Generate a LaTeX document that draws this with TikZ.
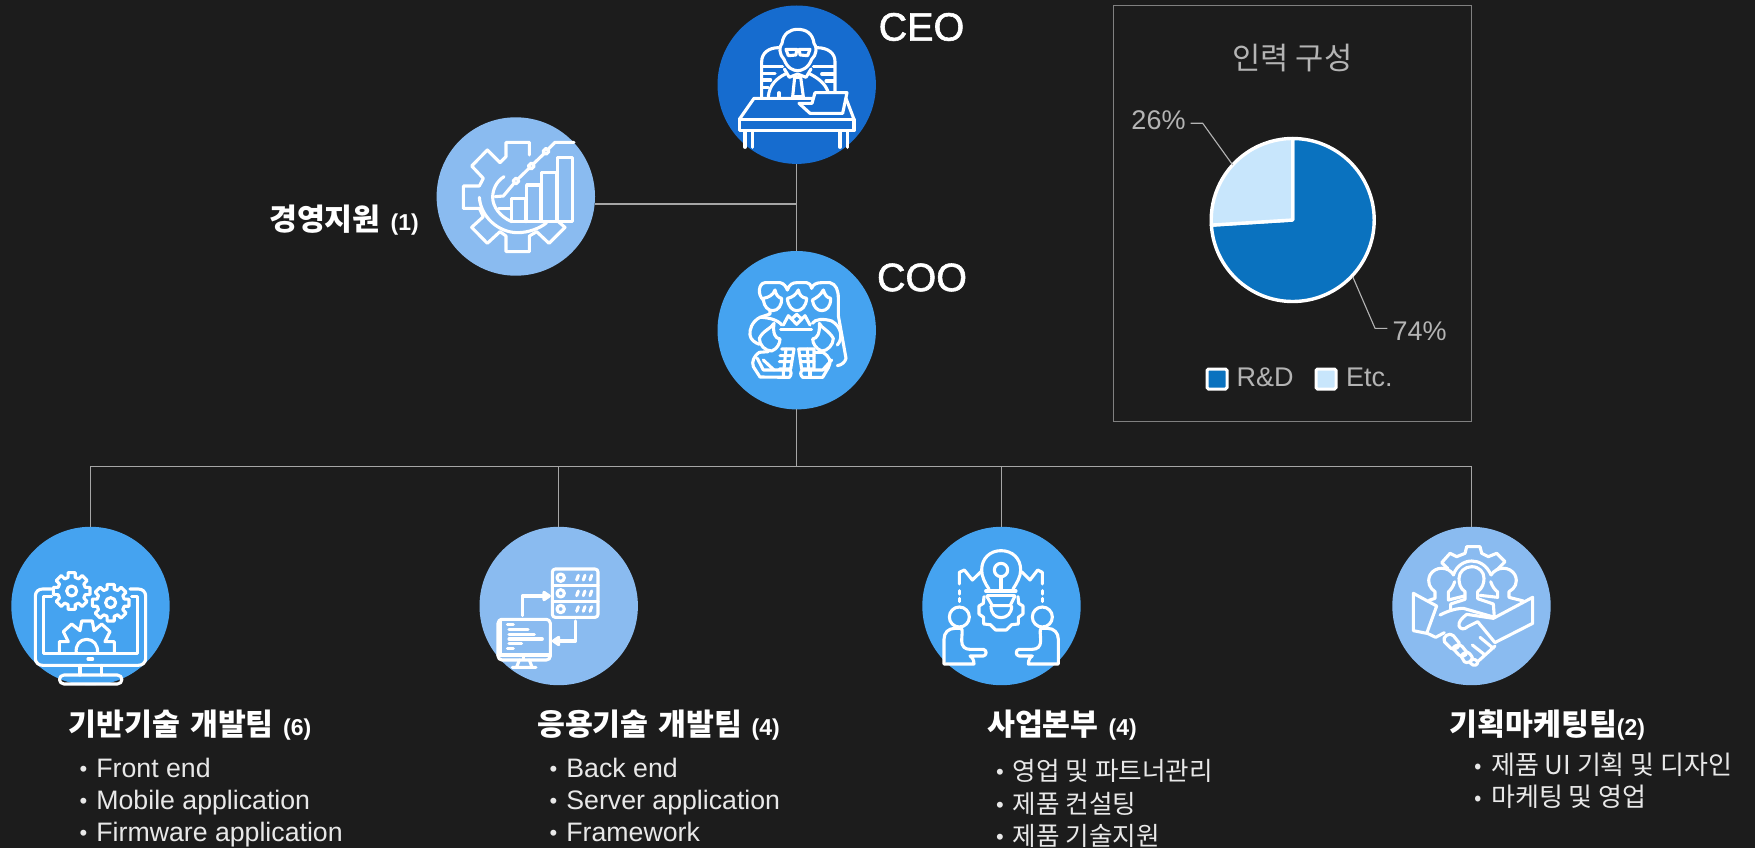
\documentclass[tikz,border=0pt]{standalone}
\usepackage{fontspec}
\setmainfont{Liberation Sans}
\newfontfamily\kr{Noto Sans CJK KR}
\newfontfamily\semi[FakeBold=1.5]{Liberation Sans}
\usetikzlibrary{arrows.meta}
\definecolor{bgc}{HTML}{1C1C1C}
\definecolor{cdark}{HTML}{166CCF}
\definecolor{cmid}{HTML}{45A3F0}
\definecolor{clight}{HTML}{8ABBF0}
\definecolor{linec}{HTML}{A6A6A6}
\definecolor{panelc}{HTML}{808080}
\definecolor{greytxt}{HTML}{B4B4B4}
\definecolor{pieA}{HTML}{0A72BF}
\definecolor{pieB}{HTML}{C8E6FC}
\definecolor{itemc}{HTML}{E8E8E8}
\tikzset{
  disc/.style={circle,minimum size=158.4pt,inner sep=0pt,outer sep=0pt,fill=#1},
  conn/.style={draw=linec,line width=1.1pt},
  ico/.style={draw=white,line width=3.1pt,line join=round,line cap=round},
  ttl/.style={text=white,anchor=base west,inner sep=0pt,font=\fontsize{30.3}{32}\selectfont\kr\bfseries},
  item/.style={text=itemc,anchor=base west,inner sep=0pt,font=\fontsize{26.7}{28}\selectfont},
  itemk/.style={text=itemc,anchor=base west,inner sep=0pt,font=\fontsize{26}{28}\selectfont\kr},
  itemj/.style={text=itemc,anchor=base west,inner sep=0pt,font=\fontsize{25.6}{28}\selectfont\kr},
  big/.style={text=white,inner sep=0pt,font=\fontsize{39.5}{44}\selectfont\semi},
  gtx/.style={text=greytxt,inner sep=0pt,font=\fontsize{27}{30}\selectfont},
  crop/.style={x=0.33333pt,y=-0.33333pt}
}
\newcommand{\bul}{{\fontsize{22}{22}\selectfont\raisebox{1pt}{•}}\hspace{9pt}}
\newcommand{\bulk}{{\fontsize{22}{22}\selectfont\raisebox{1pt}{\normalfont•}}\hspace{9pt}}
\newcommand{\num}[1]{{\fontsize{23}{26}\selectfont\normalfont\bfseries #1}}
\newcommand{\gearat}[6]{% cx cy R r hole teeth
  \draw[ico] ({#1+#3*cos(-11)},{#2+#3*sin(-11)})
    \foreach \k in {1,...,#6}{
      -- ({#1+#3*cos(\k*360/#6-360/#6+11)},{#2+#3*sin(\k*360/#6-360/#6+11)})
      -- ({#1+#4*cos(\k*360/#6-360/#6+15)},{#2+#4*sin(\k*360/#6-360/#6+15)})
      -- ({#1+#4*cos(\k*360/#6-15)},{#2+#4*sin(\k*360/#6-15)})
      -- ({#1+#3*cos(\k*360/#6-11)},{#2+#3*sin(\k*360/#6-11)})
    } -- cycle;
  \draw[ico] (#1,#2) circle (#5);
}
\begin{document}
\begin{tikzpicture}[x=1pt,y=-1pt]
\useasboundingbox (0,0) rectangle (1755,848);
\fill[bgc] (0,0) rectangle (1755,848);

% discs
\node[disc=cdark] (ceo) at (796.7,84.7) {};
\node[disc=clight] (mgmt) at (515.8,196.5) {};
\node[disc=cmid] (coo) at (796.7,330.2) {};
\node[disc=cmid] (t1) at (90.5,606) {};
\node[disc=clight] (t2) at (558.7,606) {};
\node[disc=cmid] (t3) at (1001.5,606) {};
\node[disc=clight] (t4) at (1471.5,606) {};

% connectors
\coordinate (mj) at (796.7,204);
\coordinate (bus) at (796.7,466.7);
\draw[conn] (ceo) -- (coo);
\draw[conn] ([yshift=-7.5pt]mgmt.east) -- (mj);
\draw[conn] (coo) -- (bus);
\draw[conn] (t1.north) |- (bus);
\draw[conn] (t2.north) |- (bus);
\draw[conn] (t3.north) |- (bus);
\draw[conn] (t4.north) |- (bus);

% CEO icon
\begin{scope}[shift={(700,0)},crop]
\draw[ico] (252,178) .. controls (238,165) and (236,140) .. (246,130) .. controls (250,100) and (270,88) .. (293,88) .. controls (318,88) and (338,100) .. (342,130) .. controls (352,140) and (350,165) .. (335,178) .. controls (325,205) and (305,212) .. (293,212) .. controls (280,212) and (262,205) .. (252,178);
\draw[ico] (258,148) -- (290,148) -- (288,165) -- (265,167) -- cycle (298,148) -- (330,148) -- (323,167) -- (300,165) -- cycle (290,150) -- (298,150);
\draw[ico] (253,207) -- (268,232) -- (293,222) -- (318,232) -- (333,207);
\draw[ico] (284,232) -- (302,232) -- (310,290) -- (278,290) -- cycle;
\draw[ico] (205,290) .. controls (208,255) and (230,235) .. (256,222);
\draw[ico] (330,222) .. controls (355,235) and (375,250) .. (384,275);
\draw[ico] (237,278) -- (237,290);
\draw[ico] (185,290) -- (185,185) .. controls (185,160) and (205,143) .. (236,143);
\draw[ico] (405,275) -- (405,185) .. controls (405,160) and (385,143) .. (350,143);
\draw[ico] (187,200) -- (248,200) (187,220) -- (225,220) (187,240) -- (212,240) (187,262) -- (205,262);
\draw[ico] (340,200) -- (403,200) (365,222) -- (403,222) (378,243) -- (403,243);
\draw[ico] (118,358) -- (162,295) -- (335,295) (438,295) -- (462,358);
\draw[ico] (118,358) rectangle (462,392);
\draw[ico] (135,392) -- (135,442) (158,392) -- (158,442) (420,392) -- (420,442) (443,392) -- (443,442);
\draw[ico] (345,278) -- (441,278) -- (428,340) -- (330,340) -- (297,310) -- (336,310) -- cycle;
\end{scope}

% management icon
\begin{scope}[shift={(420,110)},crop]
\draw[ico] (328,135) -- (328,97) -- (258,97) -- (258,140) -- (240,158) -- (202,120) -- (155,168) -- (190,205) -- (178,228) -- (130,228) -- (130,295) -- (178,295) -- (190,320) -- (155,352) -- (202,400) -- (240,365) -- (258,378) -- (258,425) -- (328,425) -- (328,378) -- (350,365) -- (387,400) -- (435,352) -- (415,335);
\draw[ico] (178,262) .. controls (182,320) and (235,368) .. (293,368) .. controls (325,368) and (360,355) .. (380,338);
\draw[ico] (252,200) .. controls (228,215) and (218,240) .. (218,262) .. controls (218,290) and (240,320) .. (275,335);
\draw[ico] (275,335) -- (275,265) -- (318,265) -- (318,335) (320,335) -- (320,225) -- (362,225) -- (362,335) (365,335) -- (365,187) -- (410,187) -- (410,335) (413,335) -- (413,143) -- (458,143) -- (458,335) -- (275,335);
\draw[ico] (225,260) -- (250,258) -- (282,220) (294,207) -- (327,175) (342,160) -- (372,131) (386,116) -- (405,97) -- (462,97);
\draw[ico] (288,204) -- (297,213) -- (288,222) -- (279,213) -- cycle;
\draw[ico] (334,159) -- (343,168) -- (334,177) -- (325,168) -- cycle;
\draw[ico] (378,115) -- (387,124) -- (378,133) -- (369,124) -- cycle;
\draw[ico] (236,295) -- (272,295);
\end{scope}

% COO icon
\begin{scope}[shift={(700,245)},crop]
\draw[ico] (190,165) .. controls (172,150) and (175,115) .. (195,113) -- (240,113) .. controls (252,115) and (258,125) .. (262,135) .. controls (268,118) and (278,113) .. (290,113) -- (320,113) .. controls (328,113) and (332,120) .. (335,130) .. controls (338,118) and (350,113) .. (365,113) -- (390,113) .. controls (408,118) and (415,135) .. (415,160) -- (415,212) -- (438,340) .. controls (435,352) and (425,360) .. (412,362);
\draw[ico] (190,165) .. controls (192,185) and (205,197) .. (218,197) .. controls (235,197) and (246,180) .. (245,160) .. controls (235,158) and (228,150) .. (225,135) .. controls (220,150) and (205,158) .. (190,160);
\draw[ico] (262,160) .. controls (264,185) and (278,197) .. (290,197) .. controls (305,197) and (318,185) .. (320,160) .. controls (305,158) and (298,150) .. (295,135) .. controls (288,150) and (275,158) .. (262,160);
\draw[ico] (337,165) .. controls (340,185) and (352,197) .. (365,197) .. controls (380,197) and (392,185) .. (392,160) .. controls (380,158) and (375,150) .. (370,135) .. controls (362,150) and (350,158) .. (337,165);
\draw[ico] (210,197) -- (210,207) -- (180,217) .. controls (155,230) and (148,255) .. (150,270) .. controls (152,285) and (165,293) .. (178,298);
\draw[ico] (180,217) .. controls (205,217) and (235,225) .. (245,240);
\draw[ico] (337,235) .. controls (345,222) and (370,220) .. (395,228) .. controls (425,245) and (430,280) .. (412,300);
\draw[ico] (250,240) -- (265,212) -- (290,238) -- (315,212) -- (330,240) (275,222) -- (290,208) -- (305,222);
\draw[ico] (242,254) -- (335,254);
\draw[ico] (222,235) .. controls (215,250) and (190,255) .. (178,280) .. controls (178,300) and (195,318) .. (215,318) .. controls (232,312) and (240,295) .. (240,282) .. controls (225,280) and (218,265) .. (222,235);
\draw[ico] (358,235) .. controls (365,250) and (385,255) .. (400,280) .. controls (400,300) and (382,318) .. (365,318) .. controls (348,312) and (338,295) .. (338,282) .. controls (352,280) and (360,265) .. (358,235);
\draw[ico] (205,320) -- (178,322) .. controls (160,335) and (155,350) .. (160,365) -- (180,396) -- (268,397) .. controls (275,390) and (275,378) .. (268,375) -- (190,375) -- (172,340);
\draw[ico] (190,345) -- (222,375) (250,375) -- (250,397);
\draw[ico] (245,312) -- (282,312) -- (272,372) -- (238,372);
\draw[ico] (240,332) -- (276,332) (238,350) -- (272,350) (258,312) -- (252,372);
\draw[ico] (296,312) -- (342,312) -- (342,372) -- (305,372) -- cycle;
\draw[ico] (300,332) -- (342,332) (303,350) -- (342,350) (322,312) -- (326,372);
\draw[ico] (345,322) -- (368,322) .. controls (390,335) and (395,350) .. (385,368) -- (368,397) -- (308,397) .. controls (300,390) and (300,380) .. (308,375) -- (368,375) -- (395,345);
\draw[ico] (330,375) -- (330,397);
\end{scope}

% team 1 icon
\begin{scope}[shift={(0,520)},crop]
\gearat{215}{213}{56}{42}{15}{8}
\gearat{332}{248}{56}{42}{15}{8}
\draw[ico] (155,207) -- (128,207) .. controls (115,207) and (106,216) .. (106,228) -- (106,415) .. controls (106,427) and (115,436) .. (128,436) -- (415,436) .. controls (428,436) and (437,427) .. (437,415) -- (437,228) .. controls (437,216) and (428,207) .. (415,207) -- (390,207);
\draw[ico] (155,229) -- (130,229) -- (130,400) -- (412,400) -- (412,229) -- (395,229);
\draw[ico] (264,417) -- (278,417);
\draw[ico] (240,436) -- (240,465) (305,436) -- (305,465);
\draw[ico] (192,465) -- (352,465) .. controls (370,465) and (370,492) .. (352,492) -- (192,492) .. controls (174,492) and (174,465) .. (192,465);
\draw[ico] (178,400) -- (178,365) -- (205,365) -- (190,335) -- (215,312) -- (240,332) -- (245,303) -- (277,303) -- (282,332) -- (305,312) -- (330,335) -- (315,365) -- (343,365) -- (343,400);
\draw[ico] (229,400) .. controls (225,375) and (240,358) .. (260,358) .. controls (280,358) and (296,375) .. (292,400);
\end{scope}

% team 2 icon
\begin{scope}[shift={(470,520)},crop]
\draw[ico,rounded corners=3pt] (247,147) rectangle (384,292);
\draw[ico] (247,197) -- (384,197) (247,245) -- (384,245);
\foreach \yy in {173,220,267}{
  \draw[ico] (272,\yy) circle (11);
  \draw[ico] (320,\yy+7) -- (325,\yy-7) (340,\yy+7) -- (345,\yy-7) (360,\yy+7) -- (365,\yy-7);
}
\draw[ico] (157,287) -- (157,228) -- (232,228);
\draw[ico,fill=white] (222,217) -- (238,228) -- (222,239) -- cycle;
\draw[ico] (317,303) -- (317,363) -- (258,363);
\draw[ico,fill=white] (266,352) -- (250,363) -- (266,374) -- cycle;
\draw[ico,rounded corners=4pt] (84,298) rectangle (241,420);
\draw[ico] (92,298) -- (92,405) (84,405) -- (241,405) (160,405) -- (160,415);
\draw[ico] (112,314) -- (130,314) (117,328) -- (174,328) (117,343) -- (193,343) (117,357) -- (217,357) (117,371) -- (155,371) (112,385) -- (130,385);
\draw[ico] (148,420) -- (140,441) (178,420) -- (186,441) (127,442) -- (198,442);
\end{scope}

% team 3 icon
\begin{scope}[shift={(915,520)},crop]
\draw[ico] (222,207) .. controls (210,190) and (200,170) .. (200,150) .. controls (200,115) and (225,92) .. (258,92) .. controls (292,92) and (317,115) .. (317,150) .. controls (317,170) and (305,190) .. (294,207);
\draw[ico] (258,150) circle (20);
\draw[ico] (258,170) -- (258,210);
\draw[ico] (212,213) -- (303,213) (217,226) -- (298,226);
\draw[ico] (215,228) -- (232,257) -- (285,257) -- (300,228);
\draw[ico] (228,258) .. controls (228,280) and (240,293) .. (258,293) .. controls (276,293) and (290,280) .. (290,258);
\draw[ico] (207,230) -- (205,250) -- (192,258) -- (192,282) -- (206,292) -- (206,312) -- (226,314) -- (242,330) -- (274,330) -- (290,314) -- (310,312) -- (310,292) -- (324,282) -- (324,258) -- (311,250) -- (309,230);
\draw[ico] (133,192) -- (133,157) -- (148,150) -- (172,180) -- (198,155);
\draw[ico] (320,155) -- (345,180) -- (368,150) -- (382,157) -- (382,192);
\draw[ico] (133,212) -- (133,222) (133,235) -- (133,245) (382,212) -- (382,222) (382,235) -- (382,245);
\draw[ico] (133,291) circle (30);
\draw[ico] (382,291) circle (30);
\draw[ico] (87,432) -- (87,358) .. controls (87,338) and (100,325) .. (120,325) -- (137,325) .. controls (145,325) and (140,345) .. (140,362) .. controls (140,380) and (150,388) .. (165,388) -- (205,388) .. controls (216,390) and (216,406) .. (205,408) -- (165,408) .. controls (170,410) and (177,418) .. (177,432) -- cycle;
\draw[ico] (430,432) -- (430,358) .. controls (430,338) and (417,325) .. (397,325) -- (380,325) .. controls (372,325) and (377,345) .. (377,362) .. controls (377,380) and (367,388) .. (352,388) -- (312,388) .. controls (301,390) and (301,406) .. (312,408) -- (352,408) .. controls (347,410) and (340,418) .. (340,432) -- cycle;
\end{scope}

% team 4 icon
\begin{scope}[shift={(1385,520)},crop]
\draw[ico] (188,145) -- (170,128) -- (195,100) -- (215,110) -- (240,100) -- (245,80) -- (285,80) -- (290,100) -- (310,110) -- (335,100) -- (360,125) -- (335,150);
\draw[ico] (205,165) .. controls (215,135) and (240,123) .. (260,123) .. controls (282,123) and (305,135) .. (318,165);
\draw[ico] (197,268) -- (197,252) -- (240,238) -- (240,215) .. controls (225,205) and (222,190) .. (222,175) .. controls (222,155) and (240,140) .. (260,140) .. controls (282,140) and (297,155) .. (297,175) .. controls (297,190) and (292,205) .. (278,215) -- (278,236) -- (325,252) -- (328,292);
\draw[ico] (206,165) .. controls (190,138) and (150,138) .. (135,165) .. controls (125,188) and (135,205) .. (150,215) -- (150,235) -- (132,241);
\draw[ico] (209,185) .. controls (205,200) and (196,210) .. (190,216) -- (190,240) -- (238,228);
\draw[ico] (318,165) .. controls (335,138) and (375,138) .. (390,165) .. controls (400,188) and (390,205) .. (372,215) -- (372,232) -- (415,243);
\draw[ico] (317,185) .. controls (322,200) and (330,210) .. (338,216) -- (338,232) -- (285,226);
\draw[ico] (85,220) -- (155,258) -- (125,340) -- (85,332) -- cycle;
\draw[ico] (443,232) -- (325,295) -- (245,283) .. controls (230,295) and (220,305) .. (222,318) .. controls (226,328) and (238,330) .. (248,320) -- (278,305) -- (330,368) -- (335,365) -- (443,310) -- cycle;
\draw[ico] (165,285) .. controls (190,272) and (215,265) .. (235,265) -- (322,290);
\draw[ico] (127,340) -- (152,352) -- (178,338);
\draw[ico] (178,365) .. controls (170,350) and (195,335) .. (205,347) -- (222,368) .. controls (228,380) and (208,392) .. (198,385) -- cycle;
\draw[ico] (203,385) .. controls (210,375) and (225,370) .. (232,380) -- (245,396) .. controls (245,408) and (230,412) .. (222,405) -- cycle;
\draw[ico] (228,408) .. controls (235,398) and (248,392) .. (255,402) -- (262,412) .. controls (262,425) and (245,432) .. (238,425) -- cycle;
\draw[ico] (255,428) .. controls (258,415) and (270,415) .. (278,425) .. controls (280,435) and (265,442) .. (255,428);
\draw[ico] (278,425) -- (330,378) (262,375) -- (300,405) (285,352) -- (325,385);
\end{scope}

% panel
\node[draw=panelc,line width=1.1pt,minimum width=358pt,minimum height=416pt,inner sep=0pt] (panel) at (1292.3,213.3) {};
\node[gtx,font=\fontsize{30.7}{32}\selectfont\kr] (ptitle) at (1292.5,58) {인력 구성};
% pie
\fill[pieA,draw=white,line width=3.4pt,line join=round] (1292.7,220) -- (1292.7,138.5) arc[start angle=-90,end angle=176.4,radius=81.5] -- cycle;
\fill[pieB,draw=white,line width=3.4pt,line join=round] (1292.7,220) -- ({1292.7-81.5*cos(3.6)},{220+81.5*sin(3.6)}) arc[start angle=176.4,end angle=270,radius=81.5] -- cycle;
\node[gtx,anchor=base] (p26) at (1158.5,129) {26\%};
\node[gtx,anchor=base] (p74) at (1419.5,340) {74\%};
\coordinate (l1) at (1232.7,165);
\coordinate (l1b) at (1202.7,123.3);
\coordinate (l2) at (1352.7,276.7);
\coordinate (l2b) at (1375,328.3);
\draw[draw=greytxt,line width=1.1pt] (l1) -- (l1b) -- ([xshift=5pt]p26.base east |- l1b);
\draw[draw=greytxt,line width=1.1pt] (l2) -- (l2b) -- ([xshift=-5pt]p74.base west |- l2b);
\node[draw=white,fill=pieA,line width=3pt,rounded corners=1.5pt,minimum size=20pt,inner sep=0pt] (lg1) at (1217,379) {};
\node[draw=white,fill=pieB,line width=3pt,rounded corners=1.5pt,minimum size=20pt,inner sep=0pt] (lg2) at (1326,379) {};
\node[gtx,anchor=base west] (lt1) at (1236.5,386) {R\&D};
\node[gtx,anchor=base west] (lt2) at (1346,386) {Etc.};

% labels
\node[big] (tceo) at (921.5,27) {CEO};
\node[big] (tcoo) at (922,277.5) {COO};
\node[ttl] (tm) at (269,230) {경영지원\hspace{3pt} \num{(1)}};
\node[ttl] (a1) at (68.5,735) {기반기술\hspace{3pt} 개발팀\hspace{2.5pt} \num{(6)}};
\node[ttl] (a2) at (537,735) {응용기술\hspace{3pt} 개발팀\hspace{2.5pt} \num{(4)}};
\node[ttl] (a3) at (987,735) {사업본부\hspace{3pt} \num{(4)}};
\node[ttl] (a4) at (1449.5,735) {기획마케팅팀\num{(2)}};

\node[item] (i11) at (79.5,777) {\bul Front end};
\node[item] (i12) at (79.5,809) {\bul Mobile application};
\node[item] (i13) at (79.5,841) {\bul Firmware application};
\node[item] (i21) at (549.5,777) {\bul Back end};
\node[item] (i22) at (549.5,809) {\bul Server application};
\node[item] (i23) at (549.5,841) {\bul Framework};
\node[itemj] (i31) at (996,780) {\bulk 영업 및 파트너관리};
\node[itemj] (i32) at (996,813) {\bulk 제품 컨설팅};
\node[itemj] (i33) at (996,845) {\bulk 제품 기술지원};
\node[itemk] (i41) at (1474.5,774) {\bul 제품 UI 기획 및 디자인};
\node[itemk] (i42) at (1474.5,806) {\bul 마케팅 및 영업};
\end{tikzpicture}
\end{document}
